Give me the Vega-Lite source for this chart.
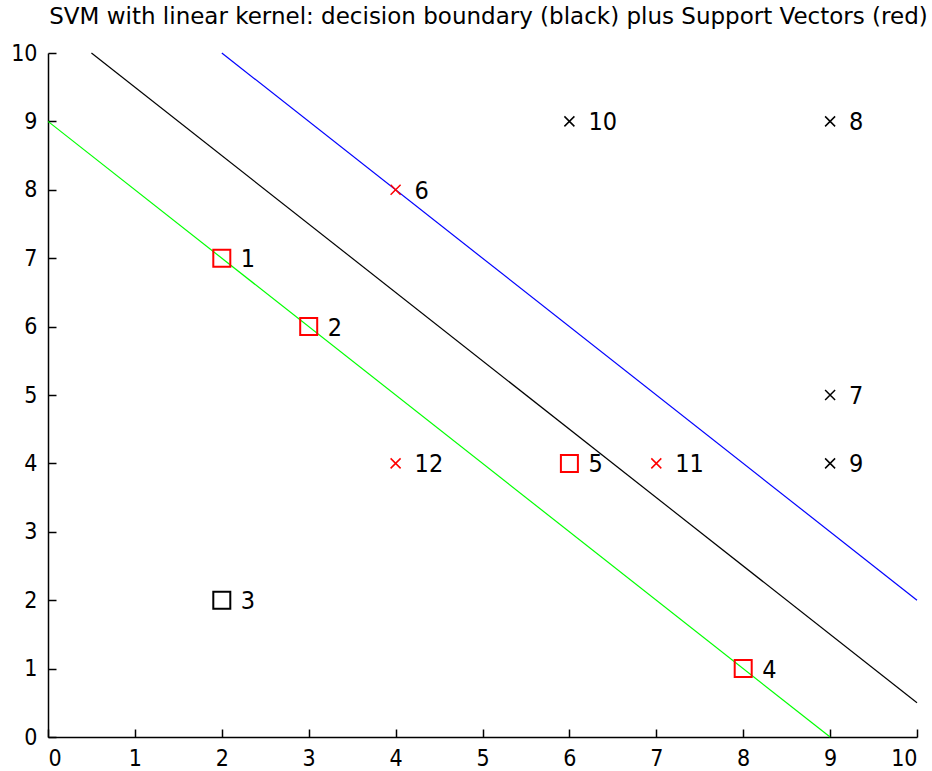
{
  "$schema": "https://vega.github.io/schema/vega-lite/v6.json",
  "autosize": "none",
  "padding": {"left": 48, "top": 53, "right": 15, "bottom": 34},
  "width": 869,
  "height": 684,
  "background": "white",
  "config": {
    "view": {"stroke": null},
    "font": "DejaVu Sans Condensed",
    "axis": {
      "grid": false,
      "domainColor": "black",
      "domainWidth": 1.5,
      "tickColor": "black",
      "tickWidth": 1.5,
      "tickSize": -8,
      "labelColor": "black",
      "labelFont": "DejaVu Sans Condensed",
      "labelFontSize": 23,
      "format": "d",
      "title": null
    }
  },
  "title": {
    "text": "SVM with linear kernel: decision boundary (black) plus Support Vectors (red)",
    "font": "DejaVu Sans",
    "fontSize": 23,
    "fontWeight": "normal",
    "color": "black",
    "anchor": "middle",
    "dx": 6,
    "offset": 13
  },
  "datasets": {
    "lines": [
      {"line": "margin1", "x": 0, "y": 9},
      {"line": "margin1", "x": 9, "y": 0},
      {"line": "boundary", "x": 0.5, "y": 10},
      {"line": "boundary", "x": 10, "y": 0.5},
      {"line": "margin2", "x": 2, "y": 10},
      {"line": "margin2", "x": 10, "y": 2}
    ],
    "points": [
      {"id": "1", "x": 2, "y": 7, "cls": "square", "sv": "yes"},
      {"id": "2", "x": 3, "y": 6, "cls": "square", "sv": "yes"},
      {"id": "3", "x": 2, "y": 2, "cls": "square", "sv": "no"},
      {"id": "4", "x": 8, "y": 1, "cls": "square", "sv": "yes"},
      {"id": "5", "x": 6, "y": 4, "cls": "square", "sv": "yes"},
      {"id": "6", "x": 4, "y": 8, "cls": "cross", "sv": "yes"},
      {"id": "7", "x": 9, "y": 5, "cls": "cross", "sv": "no"},
      {"id": "8", "x": 9, "y": 9, "cls": "cross", "sv": "no"},
      {"id": "9", "x": 9, "y": 4, "cls": "cross", "sv": "no"},
      {"id": "10", "x": 6, "y": 9, "cls": "cross", "sv": "no"},
      {"id": "11", "x": 7, "y": 4, "cls": "cross", "sv": "yes"},
      {"id": "12", "x": 4, "y": 4, "cls": "cross", "sv": "yes"}
    ]
  },
  "layer": [
    {
      "data": {"name": "lines"},
      "mark": {"type": "line", "strokeWidth": 1.2},
      "encoding": {
        "x": {"field": "x", "type": "quantitative", "scale": {"domain": [0, 10], "nice": false}, "axis": {"values": [0,1,2,3,4,5,6,7,8,9,10], "labelPadding": 18}},
        "y": {"field": "y", "type": "quantitative", "scale": {"domain": [0, 10], "nice": false}, "axis": {"values": [0,1,2,3,4,5,6,7,8,9,10], "labelPadding": 19}},
        "color": {"field": "line", "type": "nominal", "scale": {"domain": ["margin1", "boundary", "margin2"], "range": ["#00ff00", "#000000", "#0000ff"]}, "legend": null},
        "detail": {"field": "line"}
      }
    },
    {
      "data": {"name": "points"},
      "transform": [{"filter": "datum.cls === 'square'"}],
      "mark": {"type": "point", "shape": "square", "size": 289, "filled": false, "strokeWidth": 2, "opacity": 1},
      "encoding": {
        "x": {"field": "x", "type": "quantitative"},
        "y": {"field": "y", "type": "quantitative"},
        "stroke": {"field": "sv", "type": "nominal", "scale": {"domain": ["yes", "no"], "range": ["#ff0000", "#000000"]}, "legend": null}
      }
    },
    {
      "data": {"name": "points"},
      "transform": [{"filter": "datum.cls === 'cross'"}],
      "mark": {"type": "point", "shape": "M-1,-1L1,1M-1,1L1,-1", "size": 100, "filled": false, "strokeWidth": 1.5, "opacity": 1},
      "encoding": {
        "x": {"field": "x", "type": "quantitative"},
        "y": {"field": "y", "type": "quantitative"},
        "stroke": {"field": "sv", "type": "nominal", "legend": null}
      }
    },
    {
      "data": {"name": "points"},
      "mark": {"type": "text", "align": "left", "baseline": "middle", "dx": 19, "dy": 1, "fontSize": 25, "font": "DejaVu Sans Condensed", "color": "black"},
      "encoding": {
        "x": {"field": "x", "type": "quantitative"},
        "y": {"field": "y", "type": "quantitative"},
        "text": {"field": "id"}
      }
    }
  ]
}
